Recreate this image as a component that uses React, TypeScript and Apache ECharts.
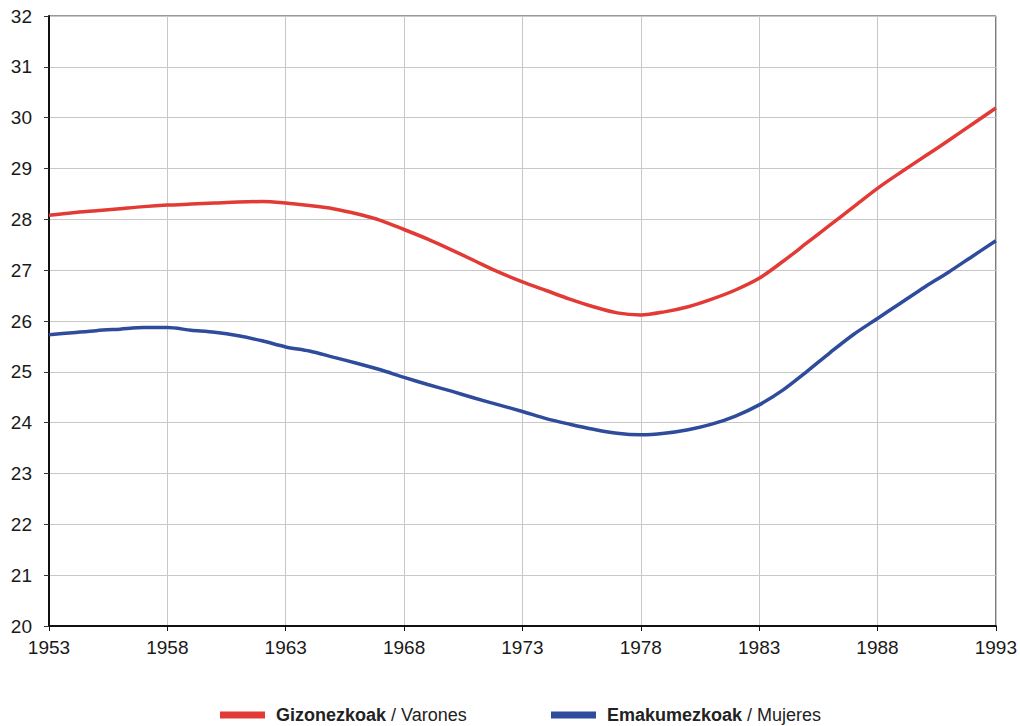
import React, { useEffect, useRef } from "react";
import * as echarts from "echarts";

const years = [
  "1953","1954","1955","1956","1957","1958","1959","1960","1961","1962",
  "1963","1964","1965","1966","1967","1968","1969","1970","1971","1972",
  "1973","1974","1975","1976","1977","1978","1979","1980","1981","1982",
  "1983","1984","1985","1986","1987","1988","1989","1990","1991","1992","1993",
];

const men = [
  28.08, 28.13, 28.17, 28.21, 28.25, 28.28, 28.3, 28.32, 28.34, 28.35,
  28.32, 28.27, 28.21, 28.11, 27.98, 27.8, 27.61, 27.4, 27.18, 26.96,
  26.77, 26.6, 26.43, 26.28, 26.16, 26.12, 26.18, 26.28, 26.43, 26.61,
  26.84, 27.17, 27.53, 27.89, 28.25, 28.61, 28.93, 29.24, 29.55, 29.87, 30.19,
];

const women = [
  25.73, 25.77, 25.81, 25.84, 25.87, 25.87, 25.82, 25.78, 25.71, 25.61,
  25.49, 25.41, 25.29, 25.17, 25.04, 24.89, 24.75, 24.62, 24.48, 24.35,
  24.22, 24.08, 23.97, 23.87, 23.79, 23.76, 23.79, 23.86, 23.97, 24.13,
  24.35, 24.64, 25.0, 25.38, 25.74, 26.05, 26.36, 26.67, 26.96, 27.27, 27.58,
];

const seriesNames = ["Gizonezkoak / Varones", "Emakumezkoak / Mujeres"];

export default function App() {
  const ref = useRef<HTMLDivElement>(null);
  useEffect(() => {
    if (!ref.current) return;
    const chart = echarts.init(ref.current, null, { renderer: "svg" });
    const font = "'Liberation Sans', Arial, sans-serif";
    const legendBase = {
      top: 706,
      padding: 0,
      icon: "rect",
      itemWidth: 45,
      itemHeight: 7,
      formatter: (name: string) => {
        const [a, b] = name.split(" / ");
        return `{b|${a}}{n| / ${b}}`;
      },
      textStyle: {
        fontFamily: font,
        fontSize: 18,
        color: "#222",
        padding: [0, 0, 0, 6],
        rich: {
          b: { fontWeight: "bold", fontSize: 18, color: "#222", fontFamily: font },
          n: { fontSize: 18, color: "#222", fontFamily: font },
        },
      },
    };
    chart.setOption({
      animation: false,
      textStyle: { fontFamily: font },
      grid: {
        left: 49,
        right: 23,
        top: 16,
        bottom: 100,
        containLabel: false,
        show: true,
        borderColor: "#333",
        borderWidth: 1,
        backgroundColor: "transparent",
      },
      legend: [
        { ...legendBase, left: 220, data: [seriesNames[0]] },
        { ...legendBase, left: 551, data: [seriesNames[1]] },
      ],
      xAxis: {
        type: "category",
        data: years,
        boundaryGap: false,
        axisLine: { show: true, lineStyle: { color: "#111", width: 2 } },
        axisTick: { show: true, interval: 4, length: 5, lineStyle: { color: "#111" } },
        axisLabel: { interval: 4, margin: 12, fontSize: 19, color: "#1a1a1a", fontFamily: font },
        splitLine: { show: true, interval: 4, lineStyle: { color: "#c8c8c8", width: 1 } },
      },
      yAxis: {
        type: "value",
        min: 20,
        max: 32,
        interval: 1,
        axisLine: { show: true, lineStyle: { color: "#111", width: 2 } },
        axisTick: { show: true, length: 5, lineStyle: { color: "#333" } },
        axisLabel: { margin: 17, fontSize: 19, color: "#1a1a1a", fontFamily: font },
        splitLine: { show: true, lineStyle: { color: "#c8c8c8", width: 1 } },
      },
      series: [
        {
          name: seriesNames[0],
          type: "line",
          data: men,
          smooth: 0.3,
          showSymbol: false,
          symbol: "none",
          lineStyle: { color: "#e23b36", width: 3.5 },
          itemStyle: { color: "#e23b36" },
        },
        {
          name: seriesNames[1],
          type: "line",
          data: women,
          smooth: 0.3,
          showSymbol: false,
          symbol: "none",
          lineStyle: { color: "#2f4b9b", width: 3.5 },
          itemStyle: { color: "#2f4b9b" },
        },
      ],
    });
    return () => chart.dispose();
  }, []);
  return (
    <div
      ref={ref}
      style={{ position: "absolute", left: 0, top: 0, width: 1020, height: 726 }}
    />
  );
}
